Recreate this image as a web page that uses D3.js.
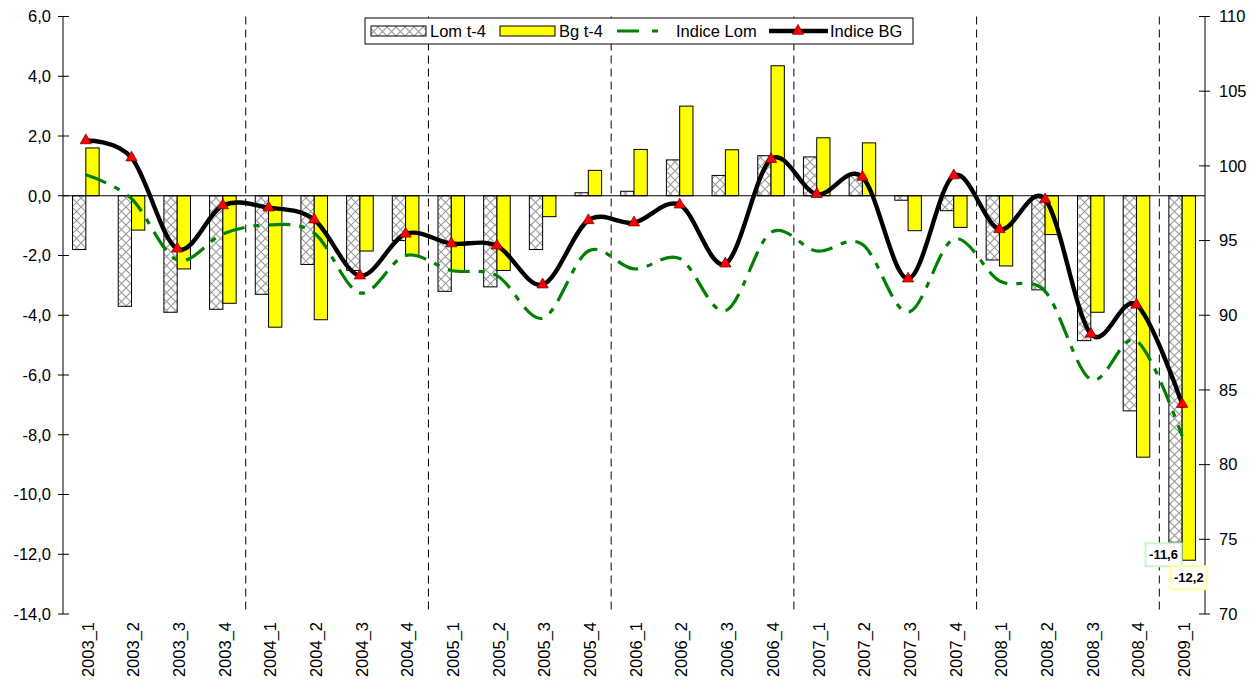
<!DOCTYPE html>
<html><head><meta charset="utf-8">
<script src="https://cdn.jsdelivr.net/npm/d3@7"></script>
<style>
body{margin:0;background:#fff;}
text{font-family:"Liberation Sans",Arial,sans-serif;}
</style></head>
<body>
<svg id="chart" width="1259" height="691"></svg>
<script>
const categories = ["2003_1","2003_2","2003_3","2003_4","2004_1","2004_2","2004_3","2004_4",
  "2005_1","2005_2","2005_3","2005_4","2006_1","2006_2","2006_3","2006_4",
  "2007_1","2007_2","2007_3","2007_4","2008_1","2008_2","2008_3","2008_4","2009_1"];
const lomT4 = [-1.8,-3.7,-3.9,-3.8,-3.3,-2.3,-2.5,-1.5,-3.2,-3.05,-1.8,0.1,0.15,1.2,0.68,1.34,1.3,0.68,-0.15,-0.5,-2.15,-3.15,-4.85,-7.2,-11.6];
const bgT4 = [1.6,-1.15,-2.45,-3.6,-4.4,-4.15,-1.85,-2.0,-2.5,-2.5,-0.7,0.85,1.55,3.0,1.54,4.35,1.94,1.77,-1.17,-1.06,-2.35,-1.3,-3.9,-8.75,-12.2];
const indiceLom = [99.4,97.8,93.7,95.45,96.05,95.5,91.5,94.0,93.0,92.65,89.8,94.3,93.1,93.8,90.3,95.55,94.3,94.75,90.2,95.1,92.3,91.6,85.7,88.3,81.9];
const indiceBG = [101.7,100.55,94.45,97.35,97.2,96.4,92.65,95.45,94.8,94.65,92.05,96.35,96.2,97.4,93.45,100.45,98.1,99.25,92.45,99.35,95.75,97.75,88.75,90.7,84.05];
const leftTicks = [6,4,2,0,-2,-4,-6,-8,-10,-12,-14];
const rightTicks = [110,105,100,95,90,85,80,75,70];
const yearStarts = ["2004_1","2005_1","2006_1","2007_1","2008_1","2009_1"];
const seriesNames = ["Lom t-4","Bg t-4","Indice Lom","Indice BG"];
const endLabels = [{series:"lom", cat:"2009_1", value:-11.6, text:"-11,6"},{series:"bg", cat:"2009_1", value:-12.2, text:"-12,2"}];

const svg = d3.select("#chart");
const L = 63, R = 1205, T = 16.5, B = 614;
const x = d3.scaleBand().domain(categories).range([L, R]).padding(0);
const xs = d3.scaleBand().domain(["lom","bg"]).range([0, x.bandwidth()]).paddingInner(0).paddingOuter(0.718);
const yL = d3.scaleLinear().domain([-14, 6]).range([B, T]);
const yR = d3.scaleLinear().domain([70, 110]).range([B, T]);
const fmt = v => d3.format(".1f")(v).replace(".", ",").replace("−","-");

const defs = svg.append("defs");
const P = 9;
const pat = defs.append("pattern").attr("id","hatch").attr("patternUnits","userSpaceOnUse")
  .attr("width",P).attr("height",P);
pat.append("rect").attr("width",P).attr("height",P).attr("fill","#fff");
pat.append("path").attr("d",`M0,0 L${P},${P} M${P},0 L0,${P}`).attr("stroke","#9a9a9a").attr("stroke-width",1.1);

// dashed year separators
svg.append("g").selectAll("line").data(yearStarts).join("line")
  .attr("x1", d => x(d)).attr("x2", d => x(d)).attr("y1", T).attr("y2", B)
  .attr("stroke","#000").attr("stroke-width",1).attr("stroke-dasharray","8,5");

// bars
const bars = svg.append("g");
bars.selectAll("rect.lom").data(categories).join("rect").attr("class","lom")
  .attr("x", d => x(d) + xs("lom")).attr("width", xs.bandwidth())
  .attr("y", (d,i) => yL(Math.max(0, lomT4[i]))).attr("height", (d,i) => Math.abs(yL(lomT4[i]) - yL(0)))
  .attr("fill","url(#hatch)").attr("stroke","#000").attr("stroke-width",1);
bars.selectAll("rect.bg").data(categories).join("rect").attr("class","bg")
  .attr("x", d => x(d) + xs("bg")).attr("width", xs.bandwidth())
  .attr("y", (d,i) => yL(Math.max(0, bgT4[i]))).attr("height", (d,i) => Math.abs(yL(bgT4[i]) - yL(0)))
  .attr("fill","#ffff00").attr("stroke","#000").attr("stroke-width",1);

// zero line (category axis)
svg.append("line").attr("x1",L).attr("x2",R).attr("y1",yL(0)).attr("y2",yL(0)).attr("stroke","#000").attr("stroke-width",1);

// left axis
const gl = svg.append("g").attr("transform",`translate(${L},0)`);
gl.append("line").attr("y1",T).attr("y2",B).attr("stroke","#000");
gl.selectAll("line.t").data(leftTicks).join("line").attr("class","t")
  .attr("x1",-5).attr("x2",6).attr("y1",d=>yL(d)).attr("y2",d=>yL(d)).attr("stroke","#000");
gl.selectAll("text").data(leftTicks).join("text")
  .attr("x",-12).attr("y",d=>yL(d)).attr("dy","0.35em").attr("text-anchor","end")
  .attr("font-size",16.5).text(fmt);

// right axis
const gr = svg.append("g").attr("transform",`translate(${R},0)`);
gr.append("line").attr("y1",T).attr("y2",B).attr("stroke","#000");
gr.selectAll("line.t").data(rightTicks).join("line").attr("class","t")
  .attr("x1",-6).attr("x2",5).attr("y1",d=>yR(d)).attr("y2",d=>yR(d)).attr("stroke","#000");
gr.selectAll("text").data(rightTicks).join("text")
  .attr("x",14).attr("y",d=>yR(d)).attr("dy","0.35em").attr("text-anchor","start")
  .attr("font-size",16.5).text(d=>d);

// category labels
svg.append("g").selectAll("text").data(categories).join("text")
  .attr("transform", d => `translate(${x(d)+x.bandwidth()/2+2},622) rotate(-90)`)
  .attr("text-anchor","end").attr("dy","0.35em").attr("font-size",16.5).text(d=>d);

// lines
const cx = d => x(d) + x.bandwidth()/2;
const lineGen = d3.line().x((d,i)=>cx(categories[i])).y(d=>yR(d)).curve(d3.curveCardinal.tension(0));
svg.append("path").attr("d", lineGen(indiceLom)).attr("fill","none").attr("stroke","#008000")
  .attr("stroke-width",3.2).attr("stroke-dasharray","22,9,6,9");
svg.append("path").attr("d", lineGen(indiceBG)).attr("fill","none").attr("stroke","#000")
  .attr("stroke-width",4.4);
const tri = d3.symbol().type(d3.symbolTriangle).size(55);
svg.append("g").selectAll("path").data(indiceBG).join("path")
  .attr("transform",(d,i)=>`translate(${cx(categories[i])},${yR(d)})`)
  .attr("d",tri).attr("fill","#ff0000").attr("stroke","#800000").attr("stroke-width",0.8);

// end labels
const lbl = svg.append("g");
endLabels.forEach(e => {
  const bx = x(e.cat) + xs(e.series) + xs.bandwidth()/2;
  const by = yL(e.value);
  const w = 36, h = 23;
  const col = e.series === "lom" ? "#ccf5cc" : "#ffff99";
  const rx = e.series === "lom" ? bx - 30 : bx - 18;
  const ry = e.series === "lom" ? by + 1 : by + 6;
  lbl.append("rect").attr("x", rx).attr("y", ry).attr("width", w).attr("height", h)
    .attr("fill","#fff").attr("stroke",col).attr("stroke-width",2);
  lbl.append("text").attr("x", rx + w/2).attr("y", ry + h/2).attr("dy","0.35em")
    .attr("text-anchor","middle").attr("font-size",13).attr("font-weight","bold").text(e.text);
});

// legend
const lg = svg.append("g");
lg.append("rect").attr("x",365).attr("y",18).attr("width",548).attr("height",26)
  .attr("fill","#fff").attr("stroke","#000").attr("stroke-width",1);
const ly = 31;
lg.append("rect").attr("x",371).attr("y",26).attr("width",55).attr("height",10).attr("fill","url(#hatch)").attr("stroke","#000");
lg.append("text").attr("x",430).attr("y",ly).attr("dy","0.35em").attr("font-size",16.5).text(seriesNames[0]);
lg.append("rect").attr("x",500).attr("y",26).attr("width",55).attr("height",10).attr("fill","#ffff00").attr("stroke","#000");
lg.append("text").attr("x",559).attr("y",ly).attr("dy","0.35em").attr("font-size",16.5).text(seriesNames[1]);
lg.append("line").attr("x1",617).attr("x2",660).attr("y1",ly).attr("y2",ly).attr("stroke","#008000").attr("stroke-width",3.2).attr("stroke-dasharray","22,13,6,20");
lg.append("text").attr("x",676).attr("y",ly).attr("dy","0.35em").attr("font-size",16.5).text(seriesNames[2]);
lg.append("line").attr("x1",769).attr("x2",828).attr("y1",ly).attr("y2",ly).attr("stroke","#000").attr("stroke-width",4.4);
lg.append("path").attr("transform",`translate(798,${ly})`).attr("d",tri).attr("fill","#ff0000").attr("stroke","#800000").attr("stroke-width",0.8);
lg.append("text").attr("x",830).attr("y",ly).attr("dy","0.35em").attr("font-size",16.5).text(seriesNames[3]);
</script>
</body></html>
